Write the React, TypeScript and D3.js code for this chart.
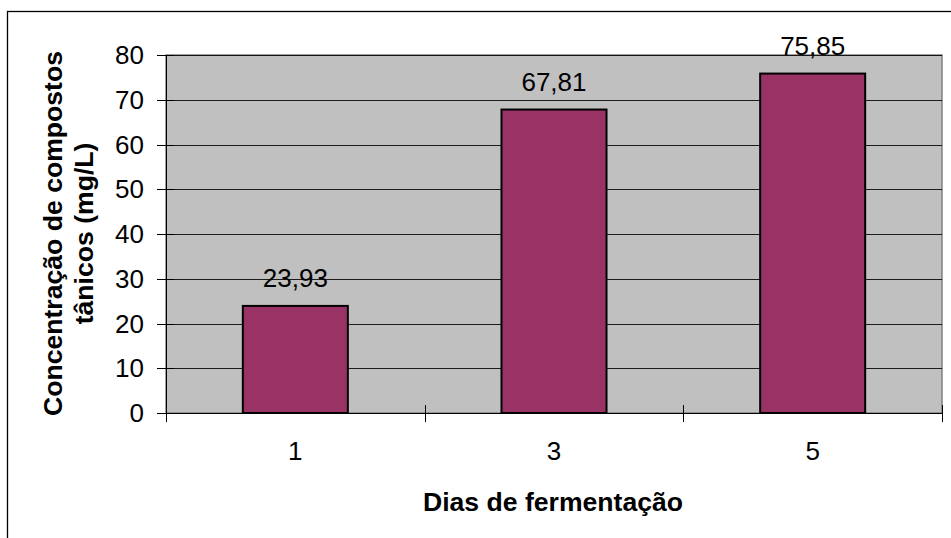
import React from "react";
import * as d3 from "d3";

// Tannin concentration by fermentation day
const days: string[] = ["1", "3", "5"];
const tannins: number[] = [23.93, 67.81, 75.85];
const yTicks: number[] = [0, 10, 20, 30, 40, 50, 60, 70, 80];

const W = 951;
const H = 538;
const plot = { left: 166, right: 942, top: 55, bottom: 413 };
const FONT = "'Liberation Sans', Arial, Helvetica, sans-serif";

const fmt = (v: number) => v.toFixed(2).replace(".", ",");

export default function App() {
  const x = d3
    .scaleBand<string>()
    .domain(days)
    .range([plot.left, plot.right])
    .paddingInner(0)
    .paddingOuter(0);
  const y = d3.scaleLinear().domain([0, 80]).range([plot.bottom, plot.top]);
  const barW = x.bandwidth() * 0.406;
  const crisp = (v: number) => Math.round(v) + 0.5;

  const catEdges = [...days.map((d) => x(d) as number), plot.right];

  return (
    <svg
      width={W}
      height={H}
      style={{ position: "absolute", left: 0, top: 0, display: "block", background: "#fff" }}
      fontFamily={FONT}
    >
      {/* outer chart frame */}
      <rect x={7.5} y={11.5} width={970} height={560} fill="none" stroke="#000" strokeWidth={1.3} />

      {/* plot background */}
      <rect
        x={plot.left}
        y={plot.top}
        width={plot.right - plot.left}
        height={plot.bottom - plot.top}
        fill="#c0c0c0"
        stroke="#808080"
        strokeWidth={1.5}
      />

      {/* horizontal gridlines */}
      {yTicks.map((t) => (
        <line
          key={"g" + t}
          x1={plot.left}
          x2={plot.right}
          y1={crisp(y(t))}
          y2={crisp(y(t))}
          stroke="#000"
          strokeWidth={1}
          opacity={0.85}
        />
      ))}

      {/* bars */}
      {days.map((d, i) => {
        const cx = (x(d) as number) + x.bandwidth() / 2;
        return (
          <rect
            key={"b" + d}
            x={cx - barW / 2}
            y={y(tannins[i])}
            width={barW}
            height={y(0) - y(tannins[i])}
            fill="#993366"
            stroke="#000"
            strokeWidth={2}
          />
        );
      })}

      {/* y axis */}
      <line x1={crisp(plot.left)} x2={crisp(plot.left)} y1={plot.top} y2={plot.bottom} stroke="#000" strokeWidth={1} />
      {yTicks.map((t) => (
        <g key={"yt" + t}>
          <line x1={157} x2={174} y1={crisp(y(t))} y2={crisp(y(t))} stroke="#000" strokeWidth={1} />
          <text x={144} y={y(t) + 9} textAnchor="end" fontSize={26} fill="#000">
            {t}
          </text>
        </g>
      ))}

      {/* x axis */}
      <line x1={plot.left} x2={plot.right} y1={crisp(plot.bottom)} y2={crisp(plot.bottom)} stroke="#000" strokeWidth={1} />
      {catEdges.map((e, i) => (
        <line key={"xt" + i} x1={crisp(e)} x2={crisp(e)} y1={405} y2={422} stroke="#000" strokeWidth={1} />
      ))}
      {days.map((d) => (
        <text
          key={"xl" + d}
          x={(x(d) as number) + x.bandwidth() / 2}
          y={460}
          textAnchor="middle"
          fontSize={26}
          fill="#000"
        >
          {d}
        </text>
      ))}

      {/* value labels */}
      {days.map((d, i) => (
        <text
          key={"v" + d}
          x={(x(d) as number) + x.bandwidth() / 2}
          y={y(tannins[i]) - 19}
          textAnchor="middle"
          fontSize={26}
          fill="#000"
        >
          {fmt(tannins[i])}
        </text>
      ))}

      {/* axis titles */}
      <text x={553} y={511} textAnchor="middle" fontSize={26.6} fontWeight="bold" fill="#000">
        Dias de fermentação
      </text>
      <g transform={`translate(0, ${(plot.top + plot.bottom) / 2 - 0.5}) rotate(-90)`}>
        <text x={0} y={62} textAnchor="middle" fontSize={26.6} fontWeight="bold" fill="#000">
          Concentração de compostos
        </text>
        <text x={0} y={93} textAnchor="middle" fontSize={26.6} fontWeight="bold" fill="#000">
          tânicos (mg/L)
        </text>
      </g>
    </svg>
  );
}
